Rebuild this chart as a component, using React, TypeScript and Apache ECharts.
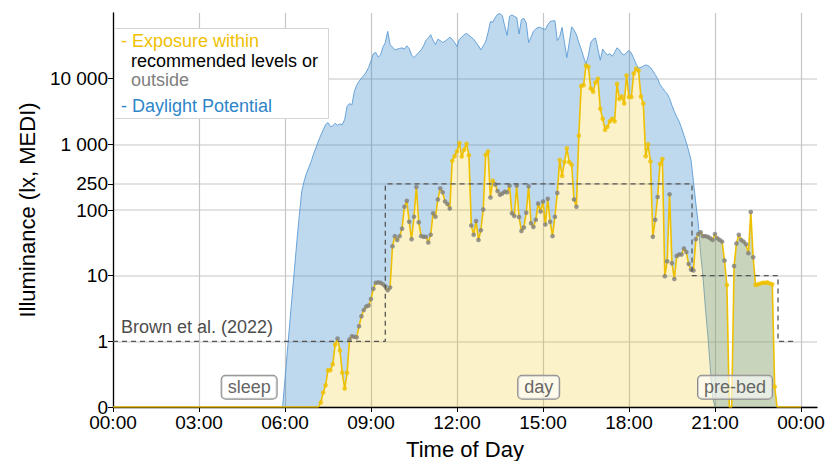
import React, { useEffect, useRef } from "react";
import * as echarts from "echarts";

// ---- data (lux, 5-minute bins) ----
const exposureStart = "07:15";
const exposure = [
  0.07, 0.22, 0.33, 0.56, 0.56, 0.65, 0.95, 1.1, 0.86, 0.52,
  0.28, 0.52, 1.07, 1.2, 1.17, 1.15, 1.7, 2.4, 3.0, 3.4,
  3.5, 4.4, 6.3, 7.8, 7.9, 7.8, 7.4, 6.9, 6.0, 6.6,
  28, 40, 35, 40, 52, 112, 138, 66, 36, 79,
  224, 65, 40, 39, 39, 32, 42, 89, 79, 145,
  214, 186, 135, 123, 105, 560, 660, 780, 1050, 650,
  830, 1020, 680, 58, 42, 68, 35, 49, 102, 690,
  780, 155, 280, 245, 195, 170, 178, 190, 186, 235,
  89, 81, 235, 78, 48, 54, 91, 229, 63, 55,
  71, 126, 95, 135, 60, 148, 66, 40, 79, 182,
  575, 330, 537, 870, 537, 490, 145, 112, 1350, 7760,
  7940, 15850, 15140, 7080, 6310, 8710, 10000, 3470, 2450, 1660,
  1860, 2240, 2450, 2240, 8320, 4900, 5370, 4170, 11220, 5250,
  5250, 12020, 14130, 13180, 5370, 4170, 660, 1000, 550, 39,
  71, 158, 500, 600, 9.8, 16.6, 174, 15.5, 8.9, 20,
  21, 21, 26, 23, 15, 12.3, 12, 36, 43, 46,
  40, 40, 39, 37, 35, 43, 37, 35, 33, 17,
  7.2, 0, 0, 14, 31, 42, 35, 33, 30, 22,
  93, 19, 7.2, 7.4, 7.6, 7.8, 7.8, 7.9, 7.6, 7.4,
  0.31, 0,
];

const daylightStart = "05:55";
const daylight = [
  0, 0.42, 0.85, 1.9, 5.0, 13, 34, 83, 190, 275,
  363, 447, 550, 724, 891, 1120, 1380, 1660, 2000, 2140,
  1860, 1900, 2090, 1950, 2040, 2000, 2400, 3800, 4170, 3980,
  6310, 7940, 9120, 10200, 11200, 12600, 14800, 18600, 24000, 25100,
  21400, 22900, 30200, 35500, 52500, 33100, 30200, 27500, 28200, 28800,
  29500, 28200, 31600, 28800, 22900, 20900, 22900, 25100, 27500, 31600,
  38000, 41700, 46800, 38000, 33100, 39800, 38000, 35500, 37200, 39800,
  42700, 39800, 35500, 30900, 39800, 42700, 46800, 49000, 45700, 42700,
  39800, 35500, 31600, 27500, 31600, 36300, 50100, 74100, 72400, 85100,
  95500, 97700, 91200, 63100, 45700, 89100, 93300, 89100, 85100, 47900,
  79400, 83200, 70800, 35500, 42700, 52500, 57500, 60300, 60300, 57500,
  56200, 66100, 74100, 75900, 75900, 38000, 43700, 60300, 35500, 20900,
  35500, 61700, 55000, 46800, 35500, 28200, 21400, 16600, 22400, 35500,
  39800, 41700, 28200, 19100, 28200, 25100, 22900, 24000, 21900, 25100,
  29500, 27500, 24000, 22900, 25100, 26900, 24500, 20400, 16600, 14500,
  14800, 15500, 16200, 15800, 14800, 13200, 11500, 10000, 8130, 7240,
  6460, 5890, 5010, 3890, 3160, 2630, 2240, 1780, 1380, 1070,
  794, 575, 269, 126, 63, 22, 9.5, 3.2, 1.26, 0.62,
  0.15, 0,
];

// states / recommendations (Brown et al. 2022)
const stateNames = ["sleep", "day", "pre-bed", "sleep"];
const stateStarts = ["00:00", "09:30", "20:12", "23:12"];
const stateEnds = ["09:30", "20:12", "23:12", "23:45"];
const stateThresholds = [1, 250, 10, 1];
const stateRules = ["max", "min", "max", "max"];

// axis ticks
const yTickValues = [0, 1, 10, 100, 250, 1000, 10000];
const yTickLabels = ["0", "1", "10", "100", "250", "1 000", "10 000"];
const xTickHours = [0, 3, 6, 9, 12, 15, 18, 21, 24];
const xTickLabels = ["00:00", "03:00", "06:00", "09:00", "12:00", "15:00", "18:00", "21:00", "00:00"];

// ---- helpers ----
const toHours = (s: string) => {
  const [h, m] = s.split(":").map(Number);
  return h + m / 60;
};
const sym = (v: number) => (v < 1 ? v : Math.log10(v) + 1);

const YELLOW = "#EFC000";
const GREY = "#808080";
const BLUE_LINE = "#5B9BD5";
const FONT = '"Liberation Sans", Arial, Helvetica, sans-serif';

export default function App() {
  const ref = useRef<HTMLDivElement>(null);

  useEffect(() => {
    if (!ref.current) return;
    const chart = echarts.init(ref.current, undefined, { renderer: "svg" });

    const N = 24 * 12;
    const e0 = Math.round(toHours(exposureStart) * 12);
    const d0 = Math.round(toHours(daylightStart) * 12);
    const times = Array.from({ length: N + 1 }, (_, i) => i / 12);
    const expo = times.map((_, i) => (i >= e0 && i < e0 + exposure.length ? exposure[i - e0] : 0));
    const day = times.map((_, i) => (i >= d0 && i < d0 + daylight.length ? daylight[i - d0] : 0));

    const expoData = times.map((t, i) => [t, sym(expo[i])]);
    // ribbon between measured exposure and daylight potential
    const ribbonData = times.map((t, i) => [t, sym(expo[i]), sym(day[i])]);
    const dayLineData = times.map((t, i) =>
      i >= d0 && i < d0 + daylight.length ? [t, sym(day[i])] : [t, "-"]
    );

    const sS = stateStarts.map(toHours);
    const sE = stateEnds.map(toHours);
    const stateOf = (t: number) => {
      for (let s = 0; s < sS.length; s++) if (t >= sS[s] && t < sE[s]) return s;
      return sS.length - 1;
    };
    const pointData = times
      .map((t, i) => ({ t, v: expo[i] }))
      .filter((p) => p.v > 0)
      .map((p) => {
        const s = stateOf(p.t);
        const within = stateRules[s] === "max" ? p.v <= stateThresholds[s] : p.v >= stateThresholds[s];
        return { value: [p.t, sym(p.v)], itemStyle: { color: within ? YELLOW : GREY } };
      });

    const threshData: number[][] = [];
    stateNames.forEach((_, s) => {
      threshData.push([sS[s], sym(stateThresholds[s])]);
      threshData.push([sE[s], sym(stateThresholds[s])]);
    });

    const stateLabelData = stateNames
      .map((name, s) => ({ name, s }))
      .filter((d) => sE[d.s] - sS[d.s] >= 1)
      .map((d) => ({
        name: d.name,
        coord: [(sS[d.s] + sE[d.s]) / 2, 0.3],
        label: {
          show: true,
          position: "inside",
          formatter: d.name,
          fontSize: 18,
          fontFamily: FONT,
          color: "#666",
          backgroundColor: "rgba(255,255,255,0.6)",
          borderColor: "#8a8a8a",
          borderWidth: 1,
          borderRadius: 4,
          padding: [3, 6, 2, 6],
        },
      }));

    const yTickSym = yTickValues.map(sym);
    const yFmt = (v: number) => {
      const idx = yTickSym.findIndex((s) => Math.abs(s - v) < 1e-6);
      return idx >= 0 ? yTickLabels[idx] : "";
    };
    const xFmt = (v: number) => {
      const idx = xTickHours.findIndex((h) => Math.abs(h - v) < 1e-6);
      return idx >= 0 ? xTickLabels[idx] : "";
    };

    chart.setOption({
      animation: false,
      textStyle: { fontFamily: FONT },
      grid: { left: 113, right: 15, top: 13, bottom: 54, outerBoundsMode: "none" },
      xAxis: {
        type: "value",
        min: 0,
        max: 24.56,
        name: "Time of Day",
        nameLocation: "middle",
        nameGap: 31,
        nameTextStyle: { fontSize: 22, color: "#000", fontFamily: FONT },
        axisLine: { show: true, onZero: false, lineStyle: { color: "#000", width: 1.3 } },
        axisTick: { show: true, customValues: xTickHours, length: 5, lineStyle: { color: "#000", width: 1 } },
        axisLabel: {
          customValues: xTickHours,
          formatter: xFmt,
          fontSize: 19,
          color: "#000",
          margin: 6,
          fontFamily: FONT,
        },
        splitLine: { show: true, lineStyle: { color: "#c6c6c6", width: 1.2 } },
      },
      yAxis: {
        type: "value",
        min: 0,
        max: 6.0,
        name: "Illuminance (lx, MEDI)",
        nameLocation: "middle",
        nameGap: 74,
        nameTextStyle: { fontSize: 22, color: "#000", fontFamily: FONT },
        axisLine: { show: true, onZero: false, lineStyle: { color: "#000", width: 1.3 } },
        axisTick: { show: true, customValues: yTickSym, length: 5, lineStyle: { color: "#000", width: 1 } },
        axisLabel: {
          customValues: yTickSym,
          formatter: yFmt,
          fontSize: 19,
          color: "#000",
          margin: 5,
          fontFamily: FONT,
        },
        splitLine: { show: true, lineStyle: { color: "#e2e2e2", width: 2 } },
      },
      series: [
        {
          name: "ribbon",
          type: "custom",
          data: ribbonData,
          encode: { x: 0, y: [1, 2] },
          clip: true,
          z: 2,
          silent: true,
          renderItem: (params: any, api: any) => {
            if (params.dataIndex !== 0) return null;
            const upper = ribbonData.map((d) => api.coord([d[0], d[2]]));
            const lower = ribbonData.map((d) => api.coord([d[0], d[1]])).reverse();
            return {
              type: "polygon",
              shape: { points: upper.concat(lower) },
              style: { fill: "rgba(40,130,200,0.3)", stroke: "none" },
            };
          },
        },
        {
          name: "exposure",
          type: "line",
          data: expoData,
          symbol: "none",
          lineStyle: { color: YELLOW, width: 1.6 },
          areaStyle: { color: "rgba(239,192,0,0.3)" },
          z: 4,
          silent: true,
        },
        {
          name: "daylight",
          type: "line",
          data: dayLineData,
          symbol: "none",
          connectNulls: false,
          lineStyle: { color: BLUE_LINE, width: 0.9 },
          z: 3,
          silent: true,
        },
        {
          name: "points",
          type: "scatter",
          data: pointData,
          symbol: "circle",
          symbolSize: 4.6,
          z: 5,
          silent: true,
        },
        {
          name: "threshold",
          type: "line",
          data: threshData,
          symbol: "none",
          lineStyle: { color: "#555", width: 1.3, type: [5, 4] },
          z: 6,
          silent: true,
          markPoint: {
            symbol: "circle",
            symbolSize: 1,
            itemStyle: { color: "rgba(0,0,0,0)" },
            silent: true,
            data: [
              ...stateLabelData,
              {
                name: "Brown et al. (2022)",
                coord: [0.28, 1.22],
                label: {
                  show: true,
                  position: "inside",
                  align: "left",
                  verticalAlign: "middle",
                  formatter: "Brown et al. (2022)",
                  fontSize: 18,
                  fontFamily: FONT,
                  color: "#4d4d4d",
                },
              },
            ],
          },
        },
      ],
      graphic: [
        {
          type: "rect",
          shape: { x: 114.5, y: 28.5, width: 214, height: 90 },
          style: { fill: "#ffffff", stroke: "#d4d4d4", lineWidth: 1 },
          z: 100,
          silent: true,
        },
        {
          type: "text",
          x: 121,
          y: 41,
          style: { text: "- Exposure within", fill: YELLOW, fontSize: 18, fontFamily: FONT, verticalAlign: "middle" },
          z: 101,
        },
        {
          type: "text",
          x: 131,
          y: 61,
          style: { text: "recommended levels or", fill: "#000", fontSize: 18, fontFamily: FONT, verticalAlign: "middle" },
          z: 101,
        },
        {
          type: "text",
          x: 131,
          y: 80,
          style: { text: "outside", fill: GREY, fontSize: 18, fontFamily: FONT, verticalAlign: "middle" },
          z: 101,
        },
        {
          type: "text",
          x: 121,
          y: 106,
          style: { text: "- Daylight Potential", fill: "#2E86C9", fontSize: 18, fontFamily: FONT, verticalAlign: "middle" },
          z: 101,
        },
      ],
    });

    return () => chart.dispose();
  }, []);

  return (
    <div
      ref={ref}
      style={{ position: "fixed", left: 0, top: 0, width: 832, height: 461, background: "#fff" }}
    />
  );
}
